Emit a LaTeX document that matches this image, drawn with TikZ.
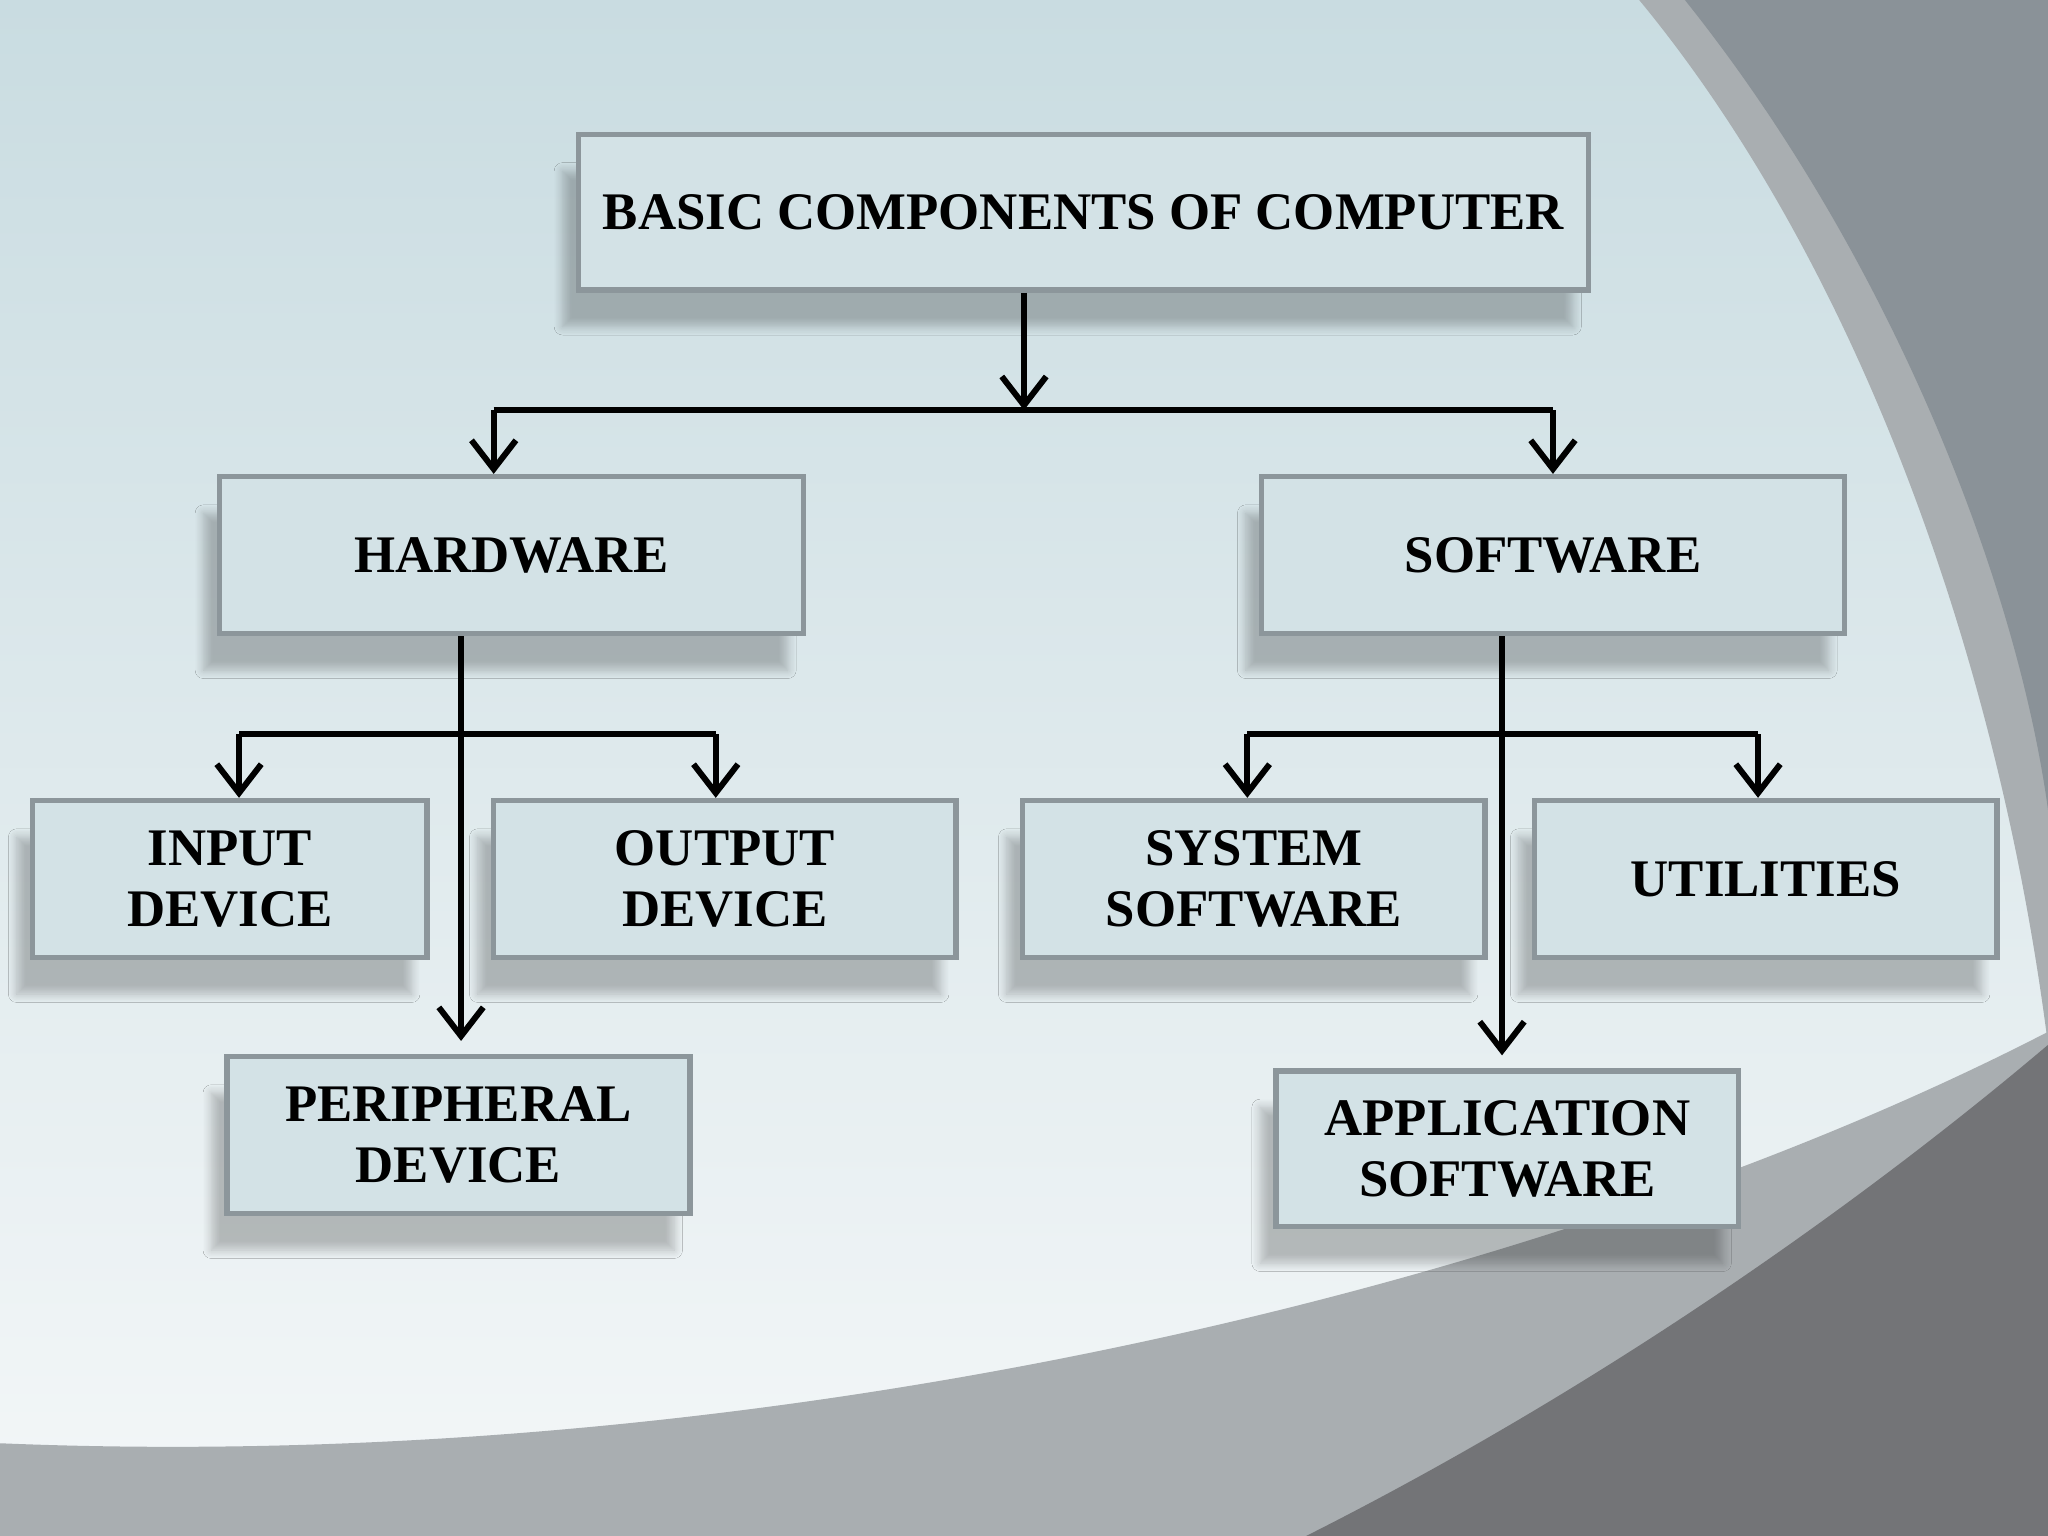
\documentclass[tikz,border=0pt]{standalone}
\usepackage{fontspec}
\setmainfont{Liberation Serif}
\usetikzlibrary{arrows.meta,shadows.blur}
\definecolor{bgA}{HTML}{C9DCE1}
\definecolor{bgB}{HTML}{F4F7F8}
\definecolor{boxfill}{HTML}{D3E2E6}
\definecolor{boxline}{HTML}{8C969B}
\definecolor{grayA}{HTML}{8A9298}
\definecolor{grayB}{HTML}{A9AEB1}
\definecolor{grayC}{HTML}{737477}
\begin{document}
\begin{tikzpicture}[x=0.01cm,y=-0.01cm,
  box/.style={draw=boxline,line width=1.2pt,fill=boxfill,align=center,
    font=\fontsize{11.5}{13.3}\selectfont\bfseries,
    blur shadow={shadow xshift=-0.12cm,shadow yshift=-0.28cm,shadow blur steps=8,shadow opacity=24}},
  conn/.style={line width=1.3pt,black},
  arr/.style={conn,-{Straight Barb[length=2.2mm,width=3.4mm,line width=1.3pt]}}]
\useasboundingbox (0,0) rectangle (1568,1176);
% background
\shade[top color=bgA,bottom color=bgB] (0,0) rectangle (1568,1176);
\fill[grayB] (1255,0) .. controls (1420,200) and (1530,500) .. (1568,800) -- (1568,0) -- cycle;
\fill[grayA] (1290,0) .. controls (1450,200) and (1545,450) .. (1568,620) -- (1568,0) -- cycle;
\fill[grayB] (0,1105) .. controls (600,1130) and (1200,980) .. (1568,790) -- (1568,1176) -- (0,1176) -- cycle;
\fill[grayC] (1000,1176) .. controls (1250,1050) and (1450,900) .. (1568,800) -- (1568,1176) -- cycle;
% nodes
\node[box,minimum width=7.73cm,minimum height=1.19cm] (top) at (829.5,162.5) {BASIC COMPONENTS OF COMPUTER};
\node[box,minimum width=4.47cm,minimum height=1.2cm] (hw) at (391.5,425) {HARDWARE};
\node[box,minimum width=4.46cm,minimum height=1.2cm] (sw) at (1189,425) {SOFTWARE};
\node[box,minimum width=3.02cm,minimum height=1.2cm] (in) at (176,673) {INPUT\\DEVICE};
\node[box,minimum width=3.54cm,minimum height=1.2cm] (out) at (555,673) {OUTPUT\\DEVICE};
\node[box,minimum width=3.54cm,minimum height=1.2cm] (sys) at (960,673) {SYSTEM\\SOFTWARE};
\node[box,minimum width=3.54cm,minimum height=1.2cm] (util) at (1352,673) {UTILITIES};
\node[box,minimum width=3.54cm,minimum height=1.2cm] (per) at (351,869) {PERIPHERAL\\DEVICE};
\node[box,minimum width=3.54cm,minimum height=1.19cm] (app) at (1154,879.5) {APPLICATION\\SOFTWARE};
% junction coordinates
\coordinate (j0) at (784,314);
\coordinate (jl) at (378,314);
\coordinate (jr) at (1189,314);
\coordinate (h0) at (353,562);
\coordinate (hl) at (183,562);
\coordinate (hr) at (548,562);
\coordinate (s0) at (1150,562);
\coordinate (sl) at (955,562);
\coordinate (sr) at (1346,562);
% connectors
\draw[arr] (top.south -| j0) -- (j0);
\draw[conn] (jl) -- (jr);
\draw[arr] (jl) -- (jl |- hw.north);
\draw[arr] (jr) -- (jr |- sw.north);
\draw[arr] (hw.south -| h0) -- (353,797);
\draw[conn] (hl) -- (hr);
\draw[arr] (hl) -- (hl |- in.north);
\draw[arr] (hr) -- (hr |- out.north);
\draw[arr] (sw.south -| s0) -- (1150,808);
\draw[conn] (sl) -- (sr);
\draw[arr] (sl) -- (sl |- sys.north);
\draw[arr] (sr) -- (sr |- util.north);
\end{tikzpicture}
\end{document}
